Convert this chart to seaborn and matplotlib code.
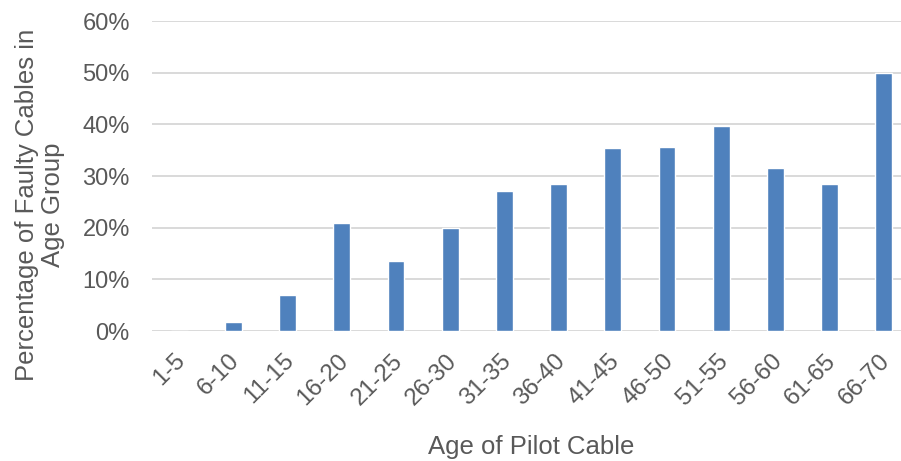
import matplotlib
matplotlib.use("Agg")
import matplotlib.pyplot as plt
import matplotlib.transforms as mtransforms
from matplotlib.ticker import PercentFormatter, MultipleLocator
import seaborn as sns
import pandas as pd

# Age bands of pilot cables and share of faulty cables in each band (%)
age_groups = ["1-5", "6-10", "11-15", "16-20", "21-25", "26-30", "31-35",
              "36-40", "41-45", "46-50", "51-55", "56-60", "61-65", "66-70"]
faulty_pct = [0.0, 1.8, 7.0, 20.9, 13.6, 19.9, 27.1,
              28.4, 35.5, 35.7, 39.7, 31.5, 28.4, 50.0]

df = pd.DataFrame({"age": age_groups, "pct": faulty_pct})

sns.set_theme(style="white")
plt.rcParams["font.family"] = ["Liberation Sans", "DejaVu Sans"]

TEXT = "#595959"
W, H = 901, 461
fig = plt.figure(figsize=(W / 100, H / 100), dpi=100)
ax = fig.add_axes([152 / W, (H - 331) / H, (911 - 152) / W, (331 - 21) / H])

sns.barplot(data=df, x="age", y="pct", color="#4F81BD", width=0.31,
            saturation=1, ax=ax, zorder=3)

ax.set_ylim(0, 60)
ax.set_xlim(-0.5, len(age_groups) - 0.5)
ax.yaxis.set_major_locator(MultipleLocator(10))
ax.yaxis.set_major_formatter(PercentFormatter(decimals=0))
ax.grid(axis="y", color="#D9D9D9", linewidth=1.4, zorder=0)
ax.grid(axis="x", visible=False)
for s in ax.spines.values():
    s.set_visible(False)

ax.tick_params(axis="y", length=0, pad=16, labelsize=17, labelcolor=TEXT)
ax.tick_params(axis="x", length=0, pad=19, labelsize=17.5, labelcolor=TEXT)

shift = mtransforms.ScaledTranslation(3 / 100, 0, fig.dpi_scale_trans)
for lbl in ax.get_xticklabels():
    lbl.set_rotation(45)
    lbl.set_ha("right")
    lbl.set_va("center")
    lbl.set_rotation_mode("anchor")
    lbl.set_transform(lbl.get_transform() + shift)

ax.set_xlabel("")
ax.set_ylabel("")
fig.text(531 / W, 1 - 447 / H, "Age of Pilot Cable", ha="center", va="center",
         fontsize=18.5, color=TEXT)
fig.text(40 / W, 1 - 205 / H, "Percentage of Faulty Cables in\nAge Group",
         rotation=90, ha="center", va="center", multialignment="center",
         linespacing=1.15, fontsize=18.5, color=TEXT)

fig.savefig("out.png", dpi=100)
